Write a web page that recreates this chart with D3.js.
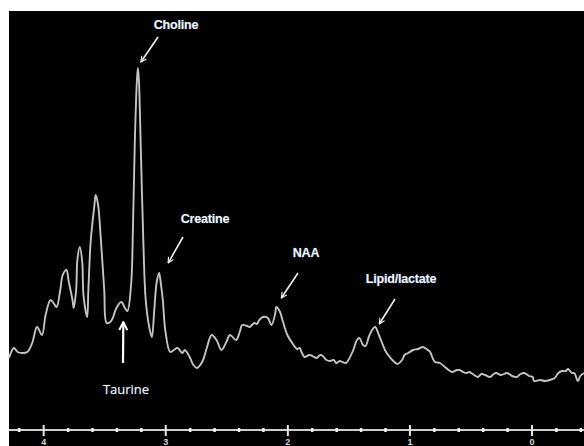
<!DOCTYPE html>
<html>
<head>
<meta charset="utf-8">
<script src="https://cdn.jsdelivr.net/npm/d3@7"></script>
<style>
  html, body { margin: 0; padding: 0; background: #fff; }
  svg { display: block; }
</style>
</head>
<body>
<svg id="chart" width="584" height="446"></svg>
<script>
// Chemical shift (ppm) and signal intensity (arbitrary units) of the spectrum
const ppm = [4.28, 4.24, 4.21, 4.17, 4.13, 4.09, 4.05, 4.01, 3.98, 3.94, 3.91, 3.89, 3.86, 3.84, 3.81, 3.79, 3.76, 3.75,
  3.73, 3.72, 3.70, 3.68, 3.67, 3.64, 3.63, 3.61, 3.58, 3.57, 3.55, 3.53, 3.50, 3.48, 3.45, 3.43, 3.40, 3.36, 3.33, 3.31,
  3.28, 3.265, 3.249, 3.232, 3.224, 3.216, 3.200, 3.18, 3.16, 3.13, 3.11, 3.09, 3.07, 3.05, 3.04, 3.02, 3.00, 2.96, 2.93,
  2.90, 2.86, 2.84, 2.80, 2.77, 2.74, 2.72, 2.69, 2.66, 2.62, 2.58, 2.54, 2.50, 2.47, 2.42, 2.39, 2.37, 2.33, 2.31, 2.27,
  2.25, 2.23, 2.20, 2.16, 2.13, 2.10, 2.09, 2.06, 2.04, 2.00, 1.96, 1.92, 1.90, 1.88, 1.86, 1.82, 1.78, 1.76, 1.73, 1.71,
  1.68, 1.65, 1.62, 1.60, 1.57, 1.55, 1.52, 1.50, 1.46, 1.43, 1.41, 1.38, 1.36, 1.33, 1.30, 1.28, 1.25, 1.23, 1.20, 1.18,
  1.14, 1.10, 1.06, 1.04, 1.01, 0.97, 0.93, 0.89, 0.86, 0.83, 0.81, 0.79, 0.75, 0.71, 0.68, 0.65, 0.61, 0.59, 0.56, 0.53,
  0.51, 0.47, 0.44, 0.41, 0.38, 0.34, 0.31, 0.29, 0.25, 0.20, 0.16, 0.12, 0.09, 0.06, 0.02, -0.01, -0.02, -0.07, -0.11,
  -0.15, -0.19, -0.22, -0.25, -0.28, -0.30, -0.33, -0.35, -0.38, -0.40, -0.43];
const intensity = [42, 52, 48, 47, 48, 57, 73, 65, 85, 100, 96, 93, 110, 125, 130, 118, 100, 92,
  110, 140, 153, 138, 105, 83, 110, 160, 195, 205, 195, 165, 110, 77, 78, 82, 92, 98, 92, 89,
  115, 170, 260, 320, 332, 320, 250, 160, 100, 72, 63, 90, 118, 127, 120, 100, 70, 48, 50,
  52, 47, 50, 43, 35, 32, 34, 40, 52, 65, 60, 50, 58, 65, 60, 68, 75, 74, 73, 77,
  76, 80, 83, 82, 75, 86, 93, 88, 80, 65, 57, 51, 52, 47, 43, 45, 43, 42, 45, 44,
  40, 39, 40, 37, 39, 38, 37, 40, 50, 60, 62, 55, 54, 64, 71, 73, 65, 59, 50, 46,
  40, 36, 40, 45, 47, 50, 51, 53, 51, 48, 42, 38, 37, 33, 30, 28, 30, 30, 28, 27,
  28, 25, 23, 26, 25, 23, 26, 27, 25, 27, 24, 23, 26, 27, 24, 23, 19, 20, 19,
  20, 22, 27, 29, 29, 31, 27, 27, 19, 24, 27];

// Axis ticks
const majorTicks = [4, 3, 2, 1, 0];
const minorTicks = [4.2, 3.8, 3.6, 3.4, 3.2, 2.8, 2.6, 2.4, 2.2, 1.8, 1.6, 1.4, 1.2, 0.8, 0.6, 0.4, 0.2, -0.2, -0.4];
const tickLabels = ["4", "3", "2", "1", "0"];

// Metabolite annotations: name and the ppm of the peak each one marks
const peakNames = ["Choline", "Creatine", "NAA", "Lipid/lactate", "Taurine"];
const peakPpm = [3.224, 3.05, 2.09, 1.28, 3.36];

const svg = d3.select("#chart");
const W = 584, H = 446;
const panel = { left: 9, top: 11 };

// Dark plotting panel
svg.append("rect")
  .attr("x", panel.left).attr("y", panel.top)
  .attr("width", W - panel.left).attr("height", H - panel.top)
  .attr("fill", "#000");

const x = d3.scaleLinear().domain([4.28, -0.43]).range([9, 584]);
const y = d3.scaleLinear().domain([0, 340]).range([400, 60]);

const defs = svg.append("defs");
defs.append("filter").attr("id", "soft")
  .append("feGaussianBlur").attr("stdDeviation", 0.4);
defs.append("marker")
  .attr("id", "head").attr("viewBox", "0 0 10 10")
  .attr("refX", 9).attr("refY", 5)
  .attr("markerWidth", 7).attr("markerHeight", 7)
  .attr("markerUnits", "userSpaceOnUse")
  .attr("orient", "auto")
  .append("path").attr("d", "M1,1 L9,5 L1,9")
  .attr("fill", "none").attr("stroke", "#f2f2f2").attr("stroke-width", 1.6);
defs.append("marker")
  .attr("id", "headBold").attr("viewBox", "0 0 10 10")
  .attr("refX", 9).attr("refY", 5)
  .attr("markerWidth", 10).attr("markerHeight", 10)
  .attr("markerUnits", "userSpaceOnUse")
  .attr("orient", "auto")
  .append("path").attr("d", "M1,1 L9,5 L1,9")
  .attr("fill", "none").attr("stroke", "#fff").attr("stroke-width", 2);

// Spectrum trace
const pts = ppm.map((p, i) => [p, intensity[i]]);
const line = d3.line()
  .x(d => x(d[0])).y(d => y(d[1]))
  .curve(d3.curveCatmullRom.alpha(0.5));
svg.append("path")
  .datum(pts)
  .attr("d", line)
  .attr("fill", "none")
  .attr("stroke", "#c4c4c4")
  .attr("stroke-width", 1.9)
  .attr("stroke-linejoin", "round")
  .attr("filter", "url(#soft)");

// Chemical-shift axis
const axisY = 430;
const axisG = svg.append("g").attr("transform", `translate(0,${axisY})`);
axisG.append("line")
  .attr("x1", 9).attr("x2", W)
  .attr("stroke", "#cfcfcf").attr("stroke-width", 2);
const major = d3.axisBottom(x).tickValues(majorTicks)
  .tickFormat((d, i) => tickLabels[i]).tickSize(6).tickPadding(0);
const majorG = axisG.append("g").call(major);
majorG.select(".domain").remove();
majorG.selectAll(".tick line")
  .attr("y1", -5).attr("y2", 6)
  .attr("stroke", "#e6e6e6").attr("stroke-width", 2);
majorG.selectAll(".tick text")
  .attr("y", 15)
  .attr("dy", null)
  .attr("fill", "#d8d8d8")
  .attr("font-family", "Liberation Sans, Arial, sans-serif")
  .attr("font-weight", "bold")
  .attr("font-size", 9);
const minor = d3.axisBottom(x).tickValues(minorTicks).tickFormat("").tickSize(2);
const minorG = axisG.append("g").call(minor);
minorG.select(".domain").remove();
minorG.selectAll(".tick line")
  .attr("y1", -2).attr("y2", 2)
  .attr("stroke", "#f0f0f0").attr("stroke-width", 2.5);

// Annotations: label text, arrow start (relative to label) and arrow tip (relative to peak)
const valueAt = p => intensity[ppm.indexOf(p)];
const annot = [
  { tx: 176, ty: 29, from: [-18, 8], tip: [3, -6] },
  { tx: 205, ty: 223, from: [-22, 14], tip: [9, -10] },
  { tx: 306, ty: 257, from: [-8, 16], tip: [5, -9] },
  { tx: 401, ty: 283, from: [-6, 16], tip: [4, -3] },
  { tx: 126, ty: 394, from: [-3, -31], tip: [2, 20] }
];

peakNames.forEach((name, i) => {
  const a = annot[i];
  const px = x(peakPpm[i]), py = y(valueAt(peakPpm[i]));
  const bold = name === "Taurine";
  svg.append("line")
    .attr("x1", a.tx + a.from[0]).attr("y1", a.ty + a.from[1])
    .attr("x2", px + a.tip[0]).attr("y2", py + a.tip[1])
    .attr("stroke", bold ? "#fff" : "#f2f2f2")
    .attr("stroke-width", bold ? 2.2 : 1.6)
    .attr("marker-end", bold ? "url(#headBold)" : "url(#head)");
  svg.append("text")
    .attr("x", a.tx).attr("y", a.ty)
    .attr("text-anchor", "middle")
    .attr("fill", "#f4f4f4")
    .attr("font-family", bold ? "Open Sans, Noto Sans, sans-serif" : "Liberation Sans, Arial, sans-serif")
    .attr("font-weight", bold ? "normal" : "bold")
    .attr("font-size", bold ? 13 : 12.5)
    .attr("letter-spacing", bold ? 0 : -0.2)
    .style("paint-order", "stroke")
    .attr("stroke", "#3a5a8a").attr("stroke-width", 0.6)
    .text(name);
});
</script>
</body>
</html>
